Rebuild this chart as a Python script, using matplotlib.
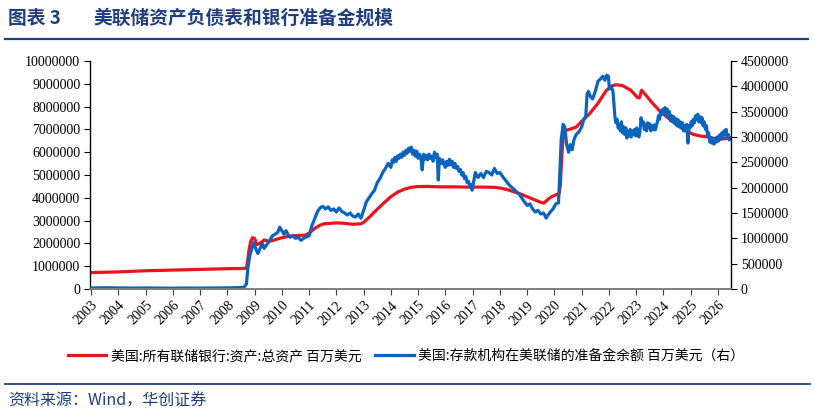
import numpy as np
import matplotlib
matplotlib.use("Agg")
import matplotlib.pyplot as plt
from matplotlib.lines import Line2D

# ---- data (millions of USD), x in fractional years ----
red_years = [2003.0, 2004.0, 2005.0, 2006.0, 2007.0, 2008.0, 2008.5, 2008.7, 2008.74, 2008.8,
             2008.86, 2008.92, 2009.0, 2009.08, 2009.15, 2009.25, 2009.35, 2009.5, 2009.65, 2009.8,
             2010.0, 2010.3, 2010.6, 2010.85, 2011.0, 2011.2, 2011.4, 2011.55, 2011.8, 2012.0,
             2012.3, 2012.6, 2012.9, 2013.0, 2013.25, 2013.5, 2013.75, 2014.0, 2014.25, 2014.5,
             2014.75, 2014.95, 2015.3, 2015.8, 2016.3, 2016.8, 2017.3, 2017.8, 2018.05, 2018.3,
             2018.55, 2018.8, 2019.05, 2019.3, 2019.5, 2019.62, 2019.75, 2019.9, 2020.1, 2020.18,
             2020.22, 2020.27, 2020.32, 2020.4, 2020.55, 2020.8, 2021.0, 2021.3, 2021.6, 2021.9,
             2022.1, 2022.25, 2022.5, 2022.8, 2023.05, 2023.12, 2023.2, 2023.3, 2023.6, 2023.9,
             2024.2, 2024.5, 2024.8, 2025.1, 2025.4, 2025.7, 2025.95, 2026.15, 2026.42]
red_vals = [0.72, 0.75, 0.80, 0.83, 0.86, 0.89, 0.90, 0.91, 1.20, 1.75,
            2.10, 2.25, 2.22, 1.95, 1.98, 2.05, 2.15, 2.10, 2.12, 2.18,
            2.25, 2.32, 2.35, 2.36, 2.45, 2.65, 2.80, 2.86, 2.88, 2.90,
            2.88, 2.84, 2.86, 2.92, 3.20, 3.50, 3.78, 4.05, 4.25, 4.38,
            4.46, 4.49, 4.50, 4.48, 4.48, 4.47, 4.47, 4.46, 4.42, 4.35,
            4.25, 4.15, 4.02, 3.90, 3.80, 3.77, 3.92, 4.05, 4.15, 4.20,
            4.60, 5.80, 6.60, 6.95, 7.00, 7.10, 7.35, 7.70, 8.15, 8.70,
            8.90, 8.96, 8.92, 8.72, 8.40, 8.38, 8.72, 8.58, 8.15, 7.76,
            7.48, 7.20, 6.95, 6.78, 6.70, 6.66, 6.56, 6.58, 6.62]

# reserve balances: (year, value)
blue_points = [
    (2003.0, 0.020), (2003.5, 0.025), (2004.0, 0.022), (2004.5, 0.018), (2005.0, 0.020),
    (2005.5, 0.017), (2006.0, 0.016), (2006.5, 0.019), (2007.0, 0.018), (2007.5, 0.020),
    (2008.0, 0.022), (2008.6, 0.030), (2008.7, 0.10), (2008.75, 0.40), (2008.82, 0.65),
    (2008.9, 0.80), (2008.97, 0.92), (2009.05, 0.78), (2009.12, 0.70), (2009.2, 0.80),
    (2009.28, 0.90), (2009.35, 0.80), (2009.45, 0.88), (2009.55, 0.95), (2009.65, 1.05),
    (2009.75, 1.08), (2009.85, 1.12), (2009.92, 1.22), (2010.0, 1.15), (2010.08, 1.08),
    (2010.15, 1.15), (2010.25, 1.05), (2010.3, 1.02), (2010.4, 1.05), (2010.5, 1.00),
    (2010.6, 1.02), (2010.7, 0.96), (2010.8, 1.00), (2010.9, 1.03), (2011.0, 1.05),
    (2011.1, 1.25), (2011.2, 1.38), (2011.3, 1.52), (2011.4, 1.60), (2011.5, 1.63),
    (2011.6, 1.58), (2011.7, 1.62), (2011.8, 1.55), (2011.9, 1.58), (2012.0, 1.52),
    (2012.1, 1.60), (2012.2, 1.53), (2012.3, 1.50), (2012.4, 1.46), (2012.5, 1.50),
    (2012.6, 1.44), (2012.7, 1.42), (2012.8, 1.48), (2012.9, 1.40), (2013.0, 1.55),
    (2013.1, 1.72), (2013.2, 1.80), (2013.3, 1.88), (2013.4, 1.95), (2013.5, 2.10),
    (2013.6, 2.18), (2013.7, 2.30), (2013.8, 2.38), (2013.9, 2.48), (2014.0, 2.40),
    (2014.05, 2.55), (2014.1, 2.50), (2014.15, 2.60), (2014.2, 2.52), (2014.25, 2.63),
    (2014.3, 2.58), (2014.35, 2.66), (2014.4, 2.60), (2014.45, 2.70), (2014.5, 2.64),
    (2014.55, 2.74), (2014.6, 2.68), (2014.65, 2.78), (2014.7, 2.72), (2014.75, 2.80),
    (2014.8, 2.66), (2014.85, 2.74), (2014.9, 2.62), (2014.95, 2.72), (2015.0, 2.58),
    (2015.05, 2.66), (2015.1, 2.60), (2015.15, 2.35), (2015.2, 2.66), (2015.25, 2.56),
    (2015.3, 2.64), (2015.35, 2.55), (2015.4, 2.66), (2015.45, 2.58), (2015.5, 2.62),
    (2015.55, 2.52), (2015.6, 2.70), (2015.65, 2.60), (2015.7, 2.66), (2015.74, 2.15),
    (2015.78, 2.58), (2015.85, 2.48), (2015.9, 2.55), (2015.95, 2.45), (2016.0, 2.40),
    (2016.05, 2.52), (2016.1, 2.44), (2016.15, 2.56), (2016.2, 2.45), (2016.25, 2.52),
    (2016.3, 2.40), (2016.35, 2.48), (2016.4, 2.38), (2016.45, 2.42), (2016.5, 2.32),
    (2016.55, 2.36), (2016.6, 2.25), (2016.65, 2.30), (2016.7, 2.18), (2016.75, 2.22),
    (2016.8, 2.10), (2016.85, 2.12), (2016.9, 2.02), (2016.95, 2.06), (2016.98, 1.95),
    (2017.05, 2.15), (2017.1, 2.30), (2017.2, 2.20), (2017.3, 2.28), (2017.4, 2.20),
    (2017.5, 2.32), (2017.6, 2.30), (2017.7, 2.25), (2017.8, 2.38), (2017.9, 2.28),
    (2018.0, 2.30), (2018.1, 2.22), (2018.2, 2.15), (2018.3, 2.08), (2018.4, 2.02),
    (2018.5, 1.98), (2018.6, 1.92), (2018.7, 1.88), (2018.8, 1.80), (2018.9, 1.72),
    (2019.0, 1.65), (2019.1, 1.68), (2019.2, 1.58), (2019.3, 1.52), (2019.4, 1.55),
    (2019.5, 1.48), (2019.6, 1.50), (2019.7, 1.40), (2019.75, 1.45), (2019.85, 1.52),
    (2019.95, 1.58), (2020.05, 1.68), (2020.15, 1.70), (2020.2, 2.30), (2020.25, 2.95),
    (2020.32, 3.25), (2020.38, 3.20), (2020.45, 2.85), (2020.52, 2.70), (2020.58, 2.85),
    (2020.65, 2.75), (2020.72, 2.95), (2020.8, 3.05), (2020.9, 3.10), (2021.0, 3.20),
    (2021.08, 3.35), (2021.15, 3.40), (2021.2, 3.85), (2021.25, 3.90), (2021.32, 3.80),
    (2021.4, 3.75), (2021.5, 3.90), (2021.6, 4.10), (2021.7, 4.15), (2021.78, 4.20),
    (2021.85, 4.12), (2021.92, 4.22), (2021.98, 4.20), (2022.02, 3.95), (2022.08, 4.00),
    (2022.15, 3.90), (2022.22, 3.40), (2022.26, 3.28), (2022.3, 3.35), (2022.34, 3.18),
    (2022.38, 3.25), (2022.42, 3.12), (2022.46, 3.30), (2022.5, 3.08), (2022.54, 3.20),
    (2022.58, 3.05), (2022.62, 3.18), (2022.66, 2.98), (2022.7, 3.10), (2022.74, 3.02),
    (2022.78, 3.15), (2022.82, 3.00), (2022.86, 3.12), (2022.9, 3.05), (2022.94, 3.15),
    (2022.98, 3.02), (2023.02, 3.18), (2023.06, 3.05), (2023.1, 3.00), (2023.14, 3.12),
    (2023.18, 3.38), (2023.22, 3.25), (2023.26, 3.30), (2023.3, 3.15), (2023.34, 3.25),
    (2023.38, 3.12), (2023.42, 3.28), (2023.46, 3.18), (2023.5, 3.26), (2023.54, 3.12),
    (2023.58, 3.22), (2023.62, 3.15), (2023.66, 3.24), (2023.7, 3.14), (2023.74, 3.22),
    (2023.78, 3.30), (2023.82, 3.42), (2023.86, 3.35), (2023.9, 3.52), (2023.94, 3.45),
    (2023.98, 3.55), (2024.02, 3.48), (2024.06, 3.58), (2024.1, 3.42), (2024.14, 3.55),
    (2024.18, 3.40), (2024.22, 3.50), (2024.26, 3.32), (2024.3, 3.42), (2024.34, 3.30),
    (2024.38, 3.40), (2024.42, 3.26), (2024.46, 3.36), (2024.5, 3.22), (2024.54, 3.34),
    (2024.58, 3.20), (2024.62, 3.30), (2024.66, 3.18), (2024.7, 3.28), (2024.74, 3.12),
    (2024.78, 3.22), (2024.82, 3.15), (2024.86, 3.25), (2024.9, 2.88), (2024.94, 3.22),
    (2024.98, 3.18), (2025.02, 3.30), (2025.06, 3.22), (2025.1, 3.35), (2025.14, 3.28),
    (2025.18, 3.42), (2025.22, 3.35), (2025.26, 3.45), (2025.3, 3.30), (2025.34, 3.40),
    (2025.38, 3.28), (2025.42, 3.38), (2025.46, 3.22), (2025.5, 3.30), (2025.54, 3.15),
    (2025.58, 3.22), (2025.62, 3.02), (2025.66, 3.08), (2025.7, 2.90), (2025.74, 2.98),
    (2025.78, 2.88), (2025.82, 2.96), (2025.86, 2.86), (2025.9, 2.98), (2025.94, 2.90),
    (2025.98, 3.00), (2026.02, 2.92), (2026.06, 3.04), (2026.1, 2.96), (2026.14, 3.08),
    (2026.18, 3.00), (2026.22, 3.12), (2026.26, 3.05), (2026.3, 3.15), (2026.34, 2.98),
    (2026.38, 3.05), (2026.42, 2.95),
]
blue_years = [p[0] for p in blue_points]
blue_vals = [p[1] for p in blue_points]

year_ticks = list(range(2003, 2027))
left_ticks = [0, 1000000, 2000000, 3000000, 4000000, 5000000, 6000000, 7000000, 8000000, 9000000, 10000000]
right_ticks = [0, 500000, 1000000, 1500000, 2000000, 2500000, 3000000, 3500000, 4000000, 4500000]

RED = "#E8141E"
BLUE = "#0A64BE"
NAVY = "#1F3F7F"
CJK = ["Noto Sans CJK SC", "DejaVu Sans"]
SERIF = "Liberation Serif"

fig = plt.figure(figsize=(8.14, 4.15), dpi=100)
ax = fig.add_axes([90 / 814, 1 - 289 / 415, (731 - 90) / 814, (289 - 61) / 415])
ax2 = ax.twinx()

ax.plot(red_years, np.array(red_vals) * 1e6, color=RED, lw=2.3, solid_joinstyle="round")
ax2.plot(blue_years, np.array(blue_vals) * 1e6, color=BLUE, lw=2.3, solid_joinstyle="round")

ax.set_xlim(2002.96, 2026.48)
ax.set_ylim(0, 10000000)
ax2.set_ylim(0, 4500000)

ax.set_xticks(year_ticks)
ax.set_xticklabels([str(y) for y in year_ticks], rotation=45, ha="right",
                   rotation_mode="anchor", fontfamily=SERIF, fontsize=10)
ax.set_yticks(left_ticks)
ax.set_yticklabels([str(v) for v in left_ticks], fontfamily=SERIF, fontsize=10)
ax2.set_yticks(right_ticks)
ax2.set_yticklabels([str(v) for v in right_ticks], fontfamily=SERIF, fontsize=10)

for a in (ax, ax2):
    a.spines["top"].set_visible(False)
    a.spines["bottom"].set_color("#808080")
    a.spines["left"].set_color("black")
    a.spines["right"].set_color("black")
    a.spines["left"].set_linewidth(1.0)
    a.spines["right"].set_linewidth(1.0)
    a.spines["bottom"].set_linewidth(1.3)
ax.spines["right"].set_visible(False)
ax2.spines["left"].set_visible(False)

ax.tick_params(axis="x", direction="out", length=4, color="#404040", pad=3, labelcolor="black")
ax.tick_params(axis="y", direction="out", length=4, pad=3)
ax2.tick_params(axis="y", direction="out", length=4, pad=3)

# title and rules
fig.text(8 / 814, 1 - 18 / 415, "图表 3", fontfamily=CJK, fontsize=13.5, fontweight="bold",
         color=NAVY, va="center", ha="left")
fig.text(93 / 814, 1 - 18 / 415, "美联储资产负债表和银行准备金规模", fontfamily=CJK, fontsize=13.5,
         fontweight="bold", color=NAVY, va="center", ha="left")
fig.add_artist(Line2D([5 / 814, 808 / 814], [1 - 39 / 415, 1 - 39 / 415], color=NAVY, lw=1.6))
fig.add_artist(Line2D([5 / 814, 810 / 814], [1 - 384 / 415, 1 - 384 / 415], color=NAVY, lw=1.3))

# legend
handles = [Line2D([], [], color=RED, lw=2.3), Line2D([], [], color=BLUE, lw=2.3)]
labels = ["美国:所有联储银行:资产:总资产 百万美元", "美国:存款机构在美联储的准备金余额 百万美元（右）"]
fig.legend(handles, labels, loc="center left", bbox_to_anchor=(62 / 814, 1 - 356 / 415),
           ncol=2, frameon=False, prop={"family": CJK, "size": 10}, handlelength=2.8,
           handletextpad=0.3, columnspacing=1.0, borderaxespad=0)

fig.text(8 / 814, 1 - 401 / 415, "资料来源：Wind，华创证券", fontfamily=CJK, fontsize=11.5,
         style="italic", color=NAVY, va="center", ha="left")

fig.savefig("out.png", dpi=100)
